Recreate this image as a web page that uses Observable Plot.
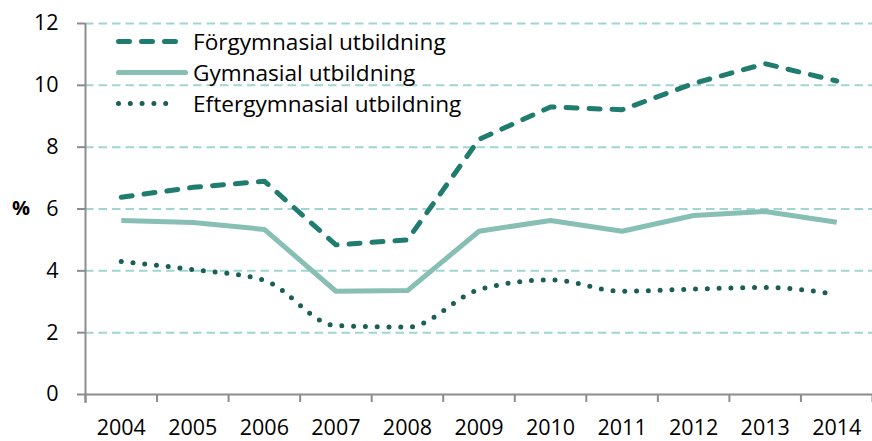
<!DOCTYPE html>
<html><head><meta charset="utf-8">
<script src="https://cdn.jsdelivr.net/npm/d3@7"></script>
<script src="https://cdn.jsdelivr.net/npm/@observablehq/plot@0.6"></script>
<style>
body{margin:0;background:#fff;font-family:"Open Sans",sans-serif;}
#wrap{position:relative;width:872px;height:441px;overflow:hidden;}
#legend{position:absolute;left:116px;top:25.5px;}
.row{display:flex;align-items:center;height:31px;}
.row svg{width:77px;height:31px;flex:none;}
.row span{font-size:22.6px;color:#000;white-space:nowrap;line-height:31px;}
#pct{position:absolute;left:12px;top:194px;font-weight:bold;font-size:20px;color:#000;}
</style></head><body>
<div id="wrap"><div id="chart"></div><div id="legend"></div><div id="pct">%</div></div>
<script>
const years = [2004, 2005, 2006, 2007, 2008, 2009, 2010, 2011, 2012, 2013, 2014];
const forgymnasial = [6.38, 6.70, 6.90, 4.84, 5.00, 8.25, 9.30, 9.21, 10.06, 10.70, 10.14];
const gymnasial = [5.63, 5.56, 5.34, 3.34, 3.36, 5.28, 5.63, 5.28, 5.79, 5.92, 5.57];
const eftergymnasial = [4.30, 4.04, 3.69, 2.23, 2.18, 3.39, 3.71, 3.34, 3.41, 3.46, 3.24];
const seriesNames = ["Förgymnasial utbildning", "Gymnasial utbildning", "Eftergymnasial utbildning"];
const yTicks = [0, 2, 4, 6, 8, 10, 12];

const styles = [
  {stroke: "#217c70", strokeWidth: 5, strokeDasharray: "11,12", strokeLinecap: "round", curve: "linear"},
  {stroke: "#88bfb5", strokeWidth: 5, strokeDasharray: null, strokeLinecap: "butt", curve: "linear"},
  {stroke: "#1b5e56", strokeWidth: 5, strokeDasharray: "0,11.8", strokeLinecap: "round", curve: "monotone-x"}
];
const seriesValues = [forgymnasial, gymnasial, eftergymnasial];
const series = seriesValues.map(vals => years.map((year, i) => ({year, value: vals[i]})));
const boundaries = [...years.map(y => y - 0.5), years[years.length - 1] + 0.5];
const axisColor = "#8c8c8c";

const chart = Plot.plot({
  width: 872,
  height: 441,
  marginLeft: 85,
  marginRight: 0,
  marginTop: 23,
  marginBottom: 47,
  style: {fontFamily: "'Open Sans', sans-serif", background: "white", overflow: "visible"},
  x: {type: "linear", domain: [boundaries[0], boundaries[boundaries.length - 1]]},
  y: {domain: [0, 12]},
  marks: [
    Plot.gridY(yTicks.filter(d => d > 0), {stroke: "#9fd6d3", strokeOpacity: 1, strokeWidth: 2, strokeDasharray: "8.5,5"}),
    Plot.axisY(yTicks, {tickSize: 8, tickPadding: 19, stroke: axisColor, strokeWidth: 2, fill: "#000", fontSize: 21.5, label: null, tickFormat: d => String(d)}),
    Plot.axisX(boundaries, {tickSize: 8, stroke: axisColor, strokeWidth: 2, tickFormat: () => "", label: null}),
    Plot.axisX(years, {tickSize: 0, tickPadding: 25, fill: "#000", fontSize: 21.5, label: null, tickFormat: d => String(d)}),
    Plot.ruleY([0], {stroke: axisColor, strokeWidth: 2}),
    Plot.ruleX([boundaries[0]], {stroke: axisColor, strokeWidth: 2, insetBottom: -9}),
    ...series.map((data, k) => Plot.line(data, {x: "year", y: "value", ...styles[k]}))
  ]
});
document.getElementById("chart").append(chart);

const legend = document.getElementById("legend");
const ends = [59.5, 69.5, 61.5];
seriesNames.forEach((name, k) => {
  const row = document.createElement("div");
  row.className = "row";
  const s = styles[k];
  row.innerHTML = `<svg viewBox="0 0 77 31"><line x1="2.5" y1="15.5" x2="${ends[k]}" y2="15.5" stroke="${s.stroke}" stroke-width="${s.strokeWidth}" stroke-linecap="round" ${s.strokeDasharray ? `stroke-dasharray="${s.strokeDasharray}"` : ""}/></svg><span>${name}</span>`;
  legend.append(row);
});
</script>
</body></html>
